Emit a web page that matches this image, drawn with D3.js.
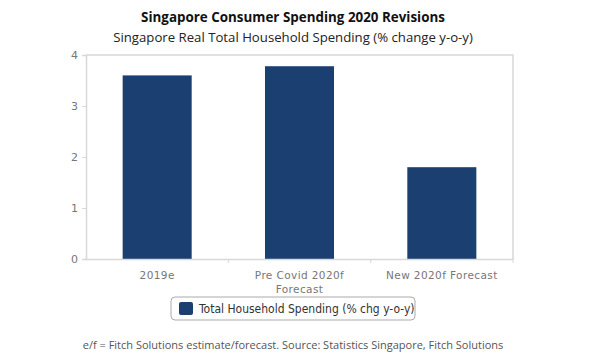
<!DOCTYPE html>
<html>
<head>
<meta charset="utf-8">
<script src="https://cdn.jsdelivr.net/npm/d3@7"></script>
<style>
  body { margin: 0; background: #fff; }
  svg { display: block; }
</style>
</head>
<body>
<svg id="chart" width="600" height="360"></svg>
<script>
const categories = ['2019e', 'Pre Covid 2020f Forecast', 'New 2020f Forecast']
const spending = [3.6, 3.78, 1.8]
const yTicks = [0, 1, 2, 3, 4]
const seriesName = 'Total Household Spending (% chg y-o-y)'

const svg = d3.select('#chart')
const barColor = '#1b3f70'
const gridColor = '#d8d8d8'
const labelColor = '#777'

const plotLeft = 86, plotRight = 513, plotTop = 55, plotBottom = 259

const xScale = d3.scaleBand()
  .domain(categories)
  .range([plotLeft, plotRight])
  .paddingInner(0.515)
  .paddingOuter(0.2575)

const yScale = d3.scaleLinear()
  .domain([0, 4])
  .range([plotBottom, plotTop])

// titles
svg.append('text')
  .attr('x', 293).attr('y', 22)
  .attr('text-anchor', 'middle')
  .style('font-family', 'Open Sans')
  .style('font-weight', 'bold')
  .style('font-size', '13.4px')
  .style('fill', '#111')
  .text('Singapore Consumer Spending 2020 Revisions')

svg.append('text')
  .attr('x', 293).attr('y', 42)
  .attr('text-anchor', 'middle')
  .style('font-family', 'Open Sans')
  .style('font-size', '13.2px')
  .style('fill', '#222')
  .text('Singapore Real Total Household Spending (% change y-o-y)')

// plot frame (top and right)
svg.append('path')
  .attr('d', `M${plotLeft},${plotTop} H${plotRight} V${plotBottom}`)
  .attr('fill', 'none')
  .attr('stroke', gridColor)
  .attr('stroke-width', 1.5)

// bars
svg.selectAll('rect.bar')
  .data(spending)
  .enter()
  .append('rect')
    .attr('class', 'bar')
    .attr('x', (d, i) => xScale(categories[i]))
    .attr('y', d => yScale(d))
    .attr('width', xScale.bandwidth())
    .attr('height', d => yScale(0) - yScale(d))
    .attr('fill', barColor)

// y axis
const yAxis = svg.append('g')
  .attr('transform', `translate(${plotLeft},0)`)
  .call(d3.axisLeft(yScale).tickValues(yTicks).tickFormat(d3.format('d')).tickSize(4).tickPadding(4))
yAxis.select('.domain').attr('stroke', gridColor).attr('stroke-width', 1.5)
yAxis.selectAll('.tick line').attr('stroke', gridColor)
yAxis.selectAll('.tick text')
  .style('font-family', 'DejaVu Sans')
  .style('font-size', '11px')
  .style('fill', labelColor)

// x axis
const xAxis = svg.append('g')
  .attr('transform', `translate(0,${plotBottom})`)
  .call(d3.axisBottom(xScale).tickSize(0).tickPadding(13))
xAxis.select('.domain').attr('stroke', gridColor).attr('stroke-width', 1.5)
xAxis.selectAll('.tick text')
  .style('font-family', 'DejaVu Sans')
  .style('font-size', '10.5px')
  .style('fill', labelColor)
  .style('letter-spacing', '0.4px')
  .each(function(d) {
    if (d === 'Pre Covid 2020f Forecast') {
      const t = d3.select(this)
      t.text(null)
      t.append('tspan').attr('x', 0).attr('dy', '0.71em').text('Pre Covid 2020f')
      t.append('tspan').attr('x', 0).attr('dy', '1.3em').text('Forecast')
    }
  })

// separator ticks between bands
const step = xScale.step()
const seps = d3.range(1, categories.length + 1).map(i => plotLeft + step * i)
svg.selectAll('line.sep')
  .data(seps)
  .enter()
  .append('line')
    .attr('class', 'sep')
    .attr('x1', d => d).attr('x2', d => d)
    .attr('y1', plotBottom).attr('y2', plotBottom + 4)
    .attr('stroke', gridColor)

// legend
const legend = svg.append('g').attr('transform', 'translate(171,297)')
legend.append('rect')
  .attr('width', 244).attr('height', 23)
  .attr('rx', 4)
  .attr('fill', '#fff')
  .attr('stroke', '#aaa')
legend.append('rect')
  .attr('x', 8).attr('y', 5)
  .attr('width', 14).attr('height', 13)
  .attr('rx', 2)
  .attr('fill', barColor)
legend.append('text')
  .attr('x', 28).attr('y', 16)
  .style('font-family', 'DejaVu Sans Condensed, DejaVu Sans')
  .style('font-size', '12px')
  .style('fill', '#333')
  .text(seriesName)

// footer
svg.append('text')
  .attr('x', 293).attr('y', 349)
  .attr('text-anchor', 'middle')
  .style('font-family', 'Open Sans')
  .style('font-size', '11px')
  .style('fill', '#555')
  .text('e/f = Fitch Solutions estimate/forecast. Source: Statistics Singapore, Fitch Solutions')
</script>
</body>
</html>
